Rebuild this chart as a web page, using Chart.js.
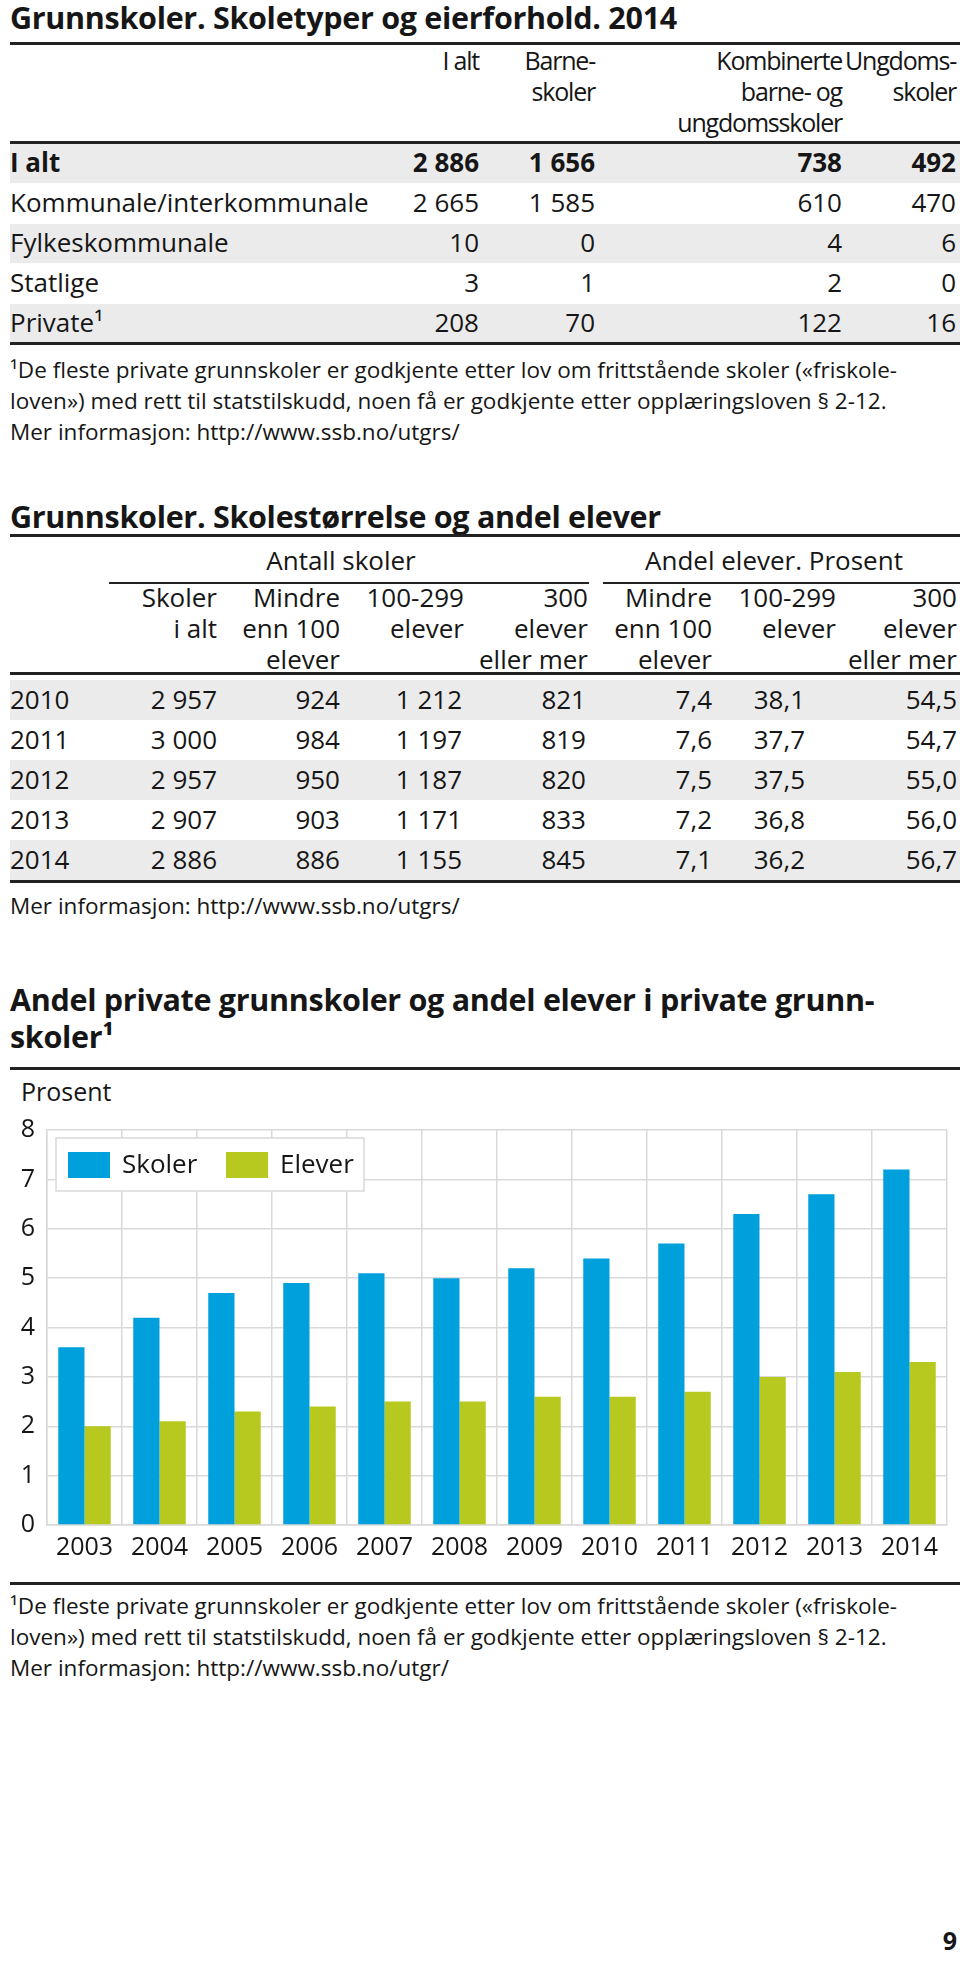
<!DOCTYPE html>
<html>
<head>
<meta charset="utf-8">
<script src="https://cdn.jsdelivr.net/npm/chart.js@4.4.1/dist/chart.umd.min.js"></script>
<style>
html, body { margin: 0; padding: 0; background: #fff; }
body { width: 960px; height: 1986px; position: relative; overflow: hidden; font-family: "Open Sans", sans-serif; color: #161616; }
.t { position: absolute; white-space: nowrap; line-height: 1; }
.rule { position: absolute; left: 10px; width: 950px; background: #222; }
.band { position: absolute; left: 10px; width: 950px; background: #ebebeb; }
#chartWrap { position: absolute; left: 0; top: 1100px; width: 960px; height: 480px; }
</style>
</head>
<body>
<div id="page"></div>
<div id="chartWrap"><canvas id="privatChart" width="960" height="480"></canvas></div>

<script>
// Tabell 1: skoletyper og eierforhold 2014
const eiere = ['I alt', 'Kommunale/interkommunale', 'Fylkeskommunale', 'Statlige', 'Private¹'];
const iAlt = [2886, 2665, 10, 3, 208];
const barneskoler = [1656, 1585, 0, 1, 70];
const kombinerte = [738, 610, 4, 2, 122];
const ungdomsskoler = [492, 470, 6, 0, 16];

// Tabell 2: skolestørrelse og andel elever
const aar = ['2010', '2011', '2012', '2013', '2014'];
const skolerIAlt = [2957, 3000, 2957, 2907, 2886];
const under100 = [924, 984, 950, 903, 886];
const fra100til299 = [1212, 1197, 1187, 1171, 1155];
const over300 = [821, 819, 820, 833, 845];
const andelUnder100 = [7.4, 7.6, 7.5, 7.2, 7.1];
const andel100til299 = [38.1, 37.7, 37.5, 36.8, 36.2];
const andelOver300 = [54.5, 54.7, 55.0, 56.0, 56.7];

// Figur: andel private grunnskoler og elever (prosent)
const aarstall = ['2003', '2004', '2005', '2006', '2007', '2008', '2009', '2010', '2011', '2012', '2013', '2014'];
const andelSkoler = [3.6, 4.2, 4.7, 4.9, 5.1, 5.0, 5.2, 5.4, 5.7, 6.3, 6.7, 7.2];
const andelElever = [2.0, 2.1, 2.3, 2.4, 2.5, 2.5, 2.6, 2.6, 2.7, 3.0, 3.1, 3.3];
const yMin = 0, yMax = 8;

const fotnote = ['¹De fleste private grunnskoler er godkjente etter lov om frittstående skoler («friskole-',
                 'loven») med rett til statstilskudd, noen få er godkjente etter opplæringsloven § 2-12.'];

const page = document.getElementById('page');

function heltall(n) {
  return String(n).replace(/\B(?=(\d{3})+(?!\d))/g, ' ');
}
function desimal(n) {
  return n.toFixed(1).replace('.', ',');
}

// plasser tekst: x er venstre, hoyre eller midt, cy er midt paa versalene
function tekst(str, x, cy, opt) {
  opt = opt || {};
  const size = opt.size || 26;
  const d = document.createElement('div');
  d.className = 't';
  d.textContent = str;
  d.style.fontSize = size + 'px';
  d.style.top = (cy - size * 0.53) + 'px';
  if (opt.bold) d.style.fontWeight = 'bold';
  if (opt.ls) d.style.letterSpacing = opt.ls + 'px';
  if (opt.align === 'right') {
    d.style.right = (960 - x) + 'px';
  } else if (opt.align === 'center') {
    d.style.left = (x - 300) + 'px';
    d.style.width = '600px';
    d.style.textAlign = 'center';
  } else {
    d.style.left = x + 'px';
  }
  page.appendChild(d);
}
function strek(y, h, x, w) {
  const d = document.createElement('div');
  d.className = 'rule';
  d.style.top = (y - h / 2) + 'px';
  d.style.height = h + 'px';
  if (x !== undefined) { d.style.left = x + 'px'; d.style.width = w + 'px'; }
  page.appendChild(d);
}
function bånd(y0, y1) {
  const d = document.createElement('div');
  d.className = 'band';
  d.style.top = y0 + 'px';
  d.style.height = (y1 - y0) + 'px';
  page.appendChild(d);
}

const tittel = {size: 30.5, bold: true, ls: -0.3};
const liten = {size: 22.5};

// ---------- Tabell 1 ----------
tekst('Grunnskoler. Skoletyper og eierforhold. 2014', 10, 18, tittel);
strek(43, 3);
const k1 = [479, 595, 842, 956];
const hode = {align: 'right', size: 25, ls: -1.2};
tekst('I alt', k1[0], 61, hode);
tekst('Barne-', k1[1], 61, hode);
tekst('skoler', k1[1], 92, hode);
tekst('Kombinerte', k1[2], 61, hode);
tekst('barne- og', k1[2], 92, hode);
tekst('ungdomsskoler', k1[2], 123, hode);
tekst('Ungdoms-', k1[3], 61, hode);
tekst('skoler', k1[3], 92, hode);
strek(142, 3);
eiere.forEach((navn, i) => {
  const y0 = 143 + i * 40;
  if (i % 2 === 0) bånd(y0 + 1, y0 + 40);
  const cy = y0 + 20;
  const b = i === 0;
  tekst(navn, 10, cy, {bold: b});
  [iAlt, barneskoler, kombinerte, ungdomsskoler].forEach((serie, j) => {
    tekst(heltall(serie[i]), k1[j], cy, {align: 'right', bold: b});
  });
});
strek(343, 3);
tekst(fotnote[0], 10, 371, liten);
tekst(fotnote[1], 10, 402, liten);
tekst('Mer informasjon: http://www.ssb.no/utgrs/', 10, 433, liten);

// ---------- Tabell 2 ----------
tekst('Grunnskoler. Skolestørrelse og andel elever', 10, 517, tittel);
strek(535, 3);
tekst('Antall skoler', 341, 561, {align: 'center'});
tekst('Andel elever. Prosent', 774, 561, {align: 'center'});
strek(583, 2, 109, 480);
strek(583, 2, 603, 357);
const k2 = [217, 340, 464, 588, 712, 836, 957];
const hode2 = [['Skoler', 'i alt'], ['Mindre', 'enn 100', 'elever'], ['100-299', 'elever'], ['300', 'elever', 'eller mer'],
               ['Mindre', 'enn 100', 'elever'], ['100-299', 'elever'], ['300', 'elever', 'eller mer']];
hode2.forEach((linjer, j) => {
  linjer.forEach((l, r) => tekst(l, k2[j], 598 + r * 31, {align: 'right'}));
});
strek(673, 3);
const k2data = [217, 340, 462, 586, 712, 805, 957];
aar.forEach((a, i) => {
  const y0 = 680 + i * 40;
  if (i % 2 === 0) bånd(y0, y0 + 40);
  const cy = y0 + 20;
  tekst(a, 10, cy);
  const verdier = [heltall(skolerIAlt[i]), heltall(under100[i]), heltall(fra100til299[i]), heltall(over300[i]),
                   desimal(andelUnder100[i]), desimal(andel100til299[i]), desimal(andelOver300[i])];
  verdier.forEach((v, j) => tekst(v, k2data[j], cy, {align: 'right'}));
});
strek(881, 3);
tekst('Mer informasjon: http://www.ssb.no/utgrs/', 10, 907, liten);

// ---------- Figur ----------
tekst('Andel private grunnskoler og andel elever i private grunn-', 10, 1000, tittel);
tekst('skoler¹', 10, 1037, tittel);
strek(1068, 3);
tekst('Prosent', 21, 1092, {size: 25});
strek(1583, 3);
tekst(fotnote[0], 10, 1607, liten);
tekst(fotnote[1], 10, 1638, liten);
tekst('Mer informasjon: http://www.ssb.no/utgr/', 10, 1669, liten);
tekst('9', 957, 1941, {size: 25, bold: true, align: 'right'});

Chart.defaults.font.family = '"Open Sans", sans-serif';
Chart.defaults.color = '#161616';

const gridFarge = '#d9d9d9';

// legende med hvit boks inne i plottet
const legendeBoks = {
  id: 'legendeBoks',
  beforeDatasetsDraw(chart) {
    const ctx = chart.ctx;
    const a = chart.chartArea;
    const x = a.left + 9, y = a.top + 8;
    ctx.save();
    ctx.fillStyle = '#fff';
    ctx.fillRect(x, y, 308, 53);
    ctx.strokeStyle = gridFarge;
    ctx.lineWidth = 1.5;
    ctx.strokeRect(x, y, 308, 53);
    ctx.font = '26px "Open Sans", sans-serif';
    ctx.textBaseline = 'middle';
    let cx = x + 12;
    chart.data.datasets.forEach(ds => {
      ctx.fillStyle = ds.backgroundColor;
      ctx.fillRect(cx, y + 14, 42, 26);
      ctx.fillStyle = '#161616';
      ctx.fillText(ds.label, cx + 54, y + 28);
      cx += 158;
    });
    ctx.restore();
  }
};

const ctx = document.getElementById('privatChart').getContext('2d');
const privatChart = new Chart(ctx, {
  type: 'bar',
  data: {
    labels: aarstall,
    datasets: [
      {
        label: 'Skoler',
        data: andelSkoler,
        backgroundColor: '#00a0dc',
        categoryPercentage: 0.7,
        barPercentage: 1.0
      },
      {
        label: 'Elever',
        data: andelElever,
        backgroundColor: '#b7c91f',
        categoryPercentage: 0.7,
        barPercentage: 1.0
      }
    ]
  },
  options: {
    responsive: false,
    animation: false,
    layout: { padding: { top: 30, right: 13, bottom: 0, left: 0 } },
    plugins: {
      legend: { display: false },
      tooltip: { enabled: false }
    },
    scales: {
      x: {
        grid: { color: gridFarge, lineWidth: 1.5, drawTicks: false, offset: true },
        border: { color: gridFarge, width: 1.5 },
        ticks: { font: { size: 25 }, padding: 8, maxRotation: 0, autoSkip: false },
        afterFit(scale) { scale.height = 55; }
      },
      y: {
        min: yMin,
        max: yMax,
        grid: { color: gridFarge, lineWidth: 1.5, drawTicks: false },
        border: { color: gridFarge, width: 1.5 },
        ticks: { font: { size: 25 }, stepSize: 1, padding: 12 },
        afterFit(scale) { scale.width = 47; }
      }
    }
  },
  plugins: [legendeBoks]
});
</script>
</body>
</html>
